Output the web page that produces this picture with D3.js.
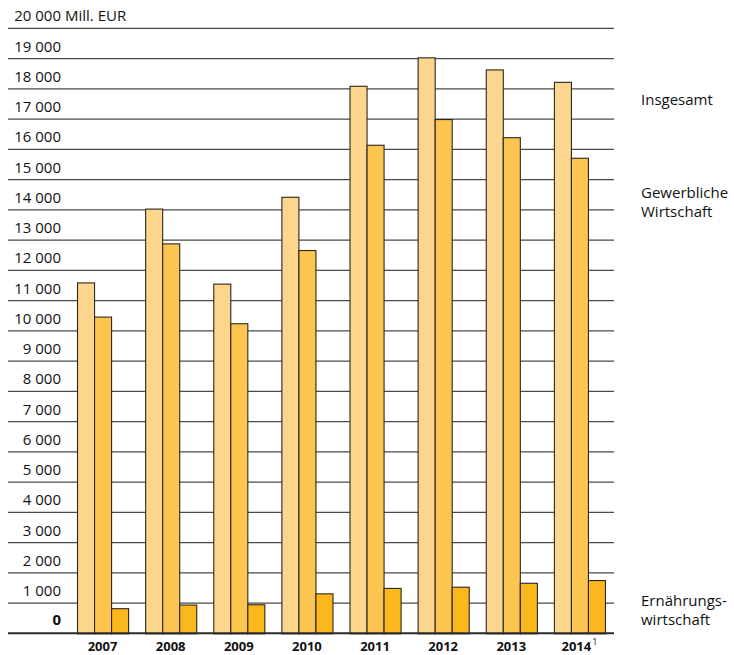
<!DOCTYPE html>
<html>
<head>
<meta charset="utf-8">
<script src="https://cdn.jsdelivr.net/npm/d3@7"></script>
<style>
  html, body { margin: 0; padding: 0; background: #fff; }
  svg { display: block; font-family: "Open Sans", "Noto Sans", sans-serif; }
</style>
</head>
<body>
<svg id="chart" width="734" height="655"></svg>
<script>
// Exports in Mill. EUR by year
const years = ["2007", "2008", "2009", "2010", "2011", "2012", "2013", "2014"];
const yearNotes = ["", "", "", "", "", "", "", "1"];
const insgesamt = [11600, 14040, 11560, 14430, 18100, 19040, 18640, 18230];
const gewerblicheWirtschaft = [10470, 12890, 10250, 12670, 16150, 17000, 16400, 15720];
const ernaehrungswirtschaft = [830, 950, 960, 1320, 1500, 1540, 1670, 1760];
const yTicks = d3.range(0, 20001, 1000);
const seriesNames = ["Insgesamt", "Gewerbliche Wirtschaft", "Ernährungswirtschaft"];
const seriesColors = ["#fdd68d", "#fcc54f", "#fbb81d"];

const svg = d3.select("#chart");
const gridLeft = 8, gridRight = 614;

const y = d3.scaleLinear().domain([0, 20000]).range([633.3, 28.3]);
const x = d3.scaleBand().domain(years).range([68.5, 613.5])
  .paddingInner(0.25).paddingOuter(0.125);
const xs = d3.scaleBand().domain(seriesNames).range([0, x.bandwidth()]).padding(0);

const fmt = d3.formatLocale({ decimal: ",", thousands: " ", grouping: [3], currency: ["", " €"] }).format(",d");

// horizontal gridlines
svg.append("g").selectAll("line").data(yTicks.filter(d => d > 0)).join("line")
  .attr("x1", gridLeft).attr("x2", gridRight)
  .attr("y1", d => y(d)).attr("y2", d => y(d))
  .attr("stroke", "#4a4a4a").attr("stroke-width", 1.3);

// y tick labels (right-aligned, sitting above each gridline)
const lab = svg.append("g").attr("font-size", 15).attr("fill", "#111");
lab.selectAll("text").data(yTicks).join("text")
  .attr("x", 61).attr("y", d => y(d) - (d === 0 ? 8 : 7))
  .attr("text-anchor", "end")
  .attr("font-weight", d => d === 0 ? "bold" : null)
  .text(d => fmt(d));
lab.append("text").attr("x", 65).attr("y", y(20000) - 7).text("Mill. EUR");

// bars
const rows = years.map((yr, i) => ({ yr, vals: [insgesamt[i], gewerblicheWirtschaft[i], ernaehrungswirtschaft[i]] }));
const groups = svg.append("g").selectAll("g").data(rows).join("g")
  .attr("transform", d => `translate(${x(d.yr)},0)`);
groups.selectAll("rect").data(d => d.vals.map((v, j) => ({ v, s: seriesNames[j], c: seriesColors[j] }))).join("rect")
  .attr("x", d => xs(d.s) + 0.5)
  .attr("width", xs.bandwidth())
  .attr("y", d => y(d.v) + 0.5)
  .attr("height", d => y(0) - y(d.v))
  .attr("fill", d => d.c)
  .attr("stroke", "#2b2620").attr("stroke-width", 1.1);

// baseline
svg.append("line").attr("x1", gridLeft).attr("x2", gridRight)
  .attr("y1", y(0)).attr("y2", y(0))
  .attr("stroke", "#2a2a2a").attr("stroke-width", 2);

// x labels
const xl = svg.append("g").attr("font-size", 13).attr("font-weight", "bold").attr("fill", "#111");
years.forEach((yr, i) => {
  const t = xl.append("text").attr("x", x(yr) + x.bandwidth() / 2).attr("y", 651).attr("text-anchor", "middle");
  t.append("tspan").text(yr);
  if (yearNotes[i]) t.append("tspan").attr("font-size", 9).attr("dx", 1).attr("dy", -6).attr("font-weight", "normal").text(yearNotes[i]);
});

// series labels on the right
const leg = svg.append("g").attr("font-size", 15).attr("fill", "#111");
const legLines = [
  { lines: ["Insgesamt"], y: 105 },
  { lines: ["Gewerbliche", "Wirtschaft"], y: 198 },
  { lines: ["Ernährungs-", "wirtschaft"], y: 606 }
];
legLines.forEach(l => {
  l.lines.forEach((s, k) => {
    leg.append("text").attr("x", 641).attr("y", l.y + k * 19).text(s);
  });
});
</script>
</body>
</html>
